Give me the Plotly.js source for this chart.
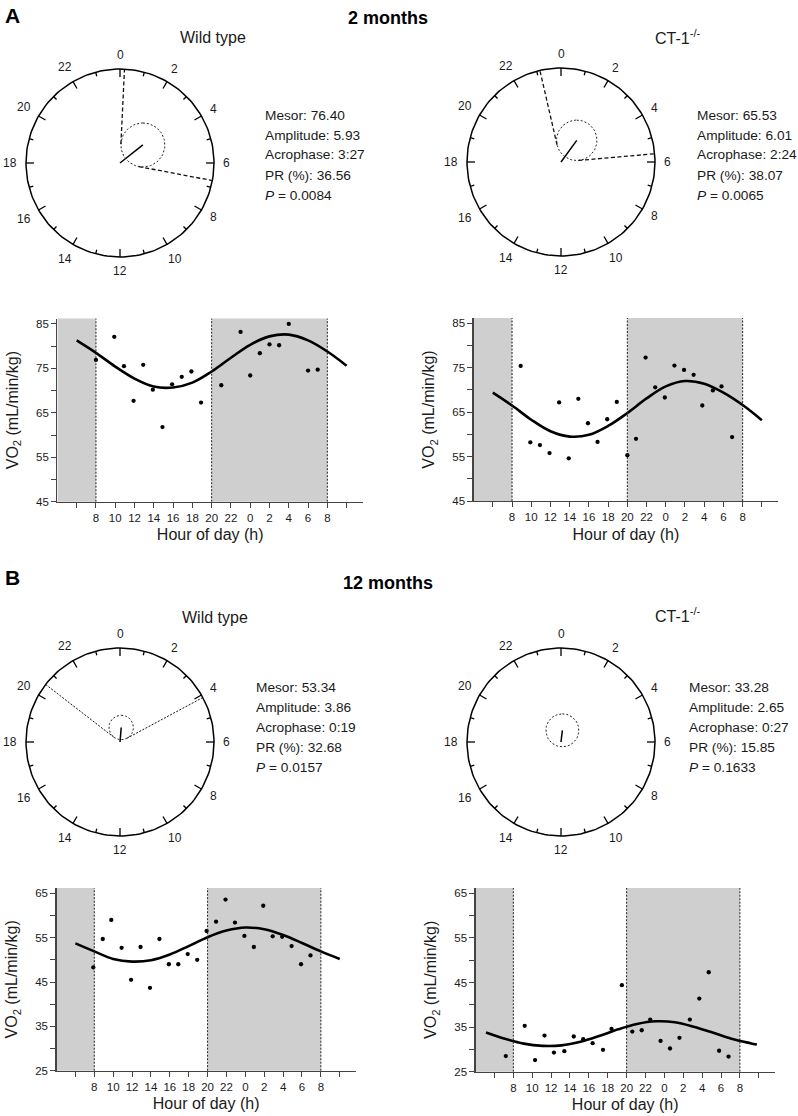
<!DOCTYPE html>
<html><head><meta charset="utf-8">
<script src="https://cdn.plot.ly/plotly-3.0.1.min.js"></script>
<style>html,body{margin:0;padding:0;background:#fff}</style>
</head><body><div id="chart" style="width:798px;height:1116px"></div>
<script>
// ---------------- data ----------------
const panelLetters = ['A', 'B'];
const ageTitles = ['2 months', '12 months'];
const groupTitles = ['Wild type', 'CT-1<sup>-/-</sup>', 'Wild type', 'CT-1<sup>-/-</sup>'];

// cosinor results (order: 2m WT, 2m CT-1, 12m WT, 12m CT-1)
const mesor = ['76.40', '65.53', '53.34', '33.28'];
const amplitude = ['5.93', '6.01', '3.86', '2.65'];
const acrophase = ['3:27', '2:24', '0:19', '0:27'];
const percentRhythm = ['36.56', '38.07', '32.68', '15.85'];
const pValue = ['0.0084', '0.0065', '0.0157', '0.1633'];

// clock vector length and confidence-circle radius (fraction of dial radius)
const vectorLength = [0.31, 0.285, 0.155, 0.125];
const confRadius = [0.234, 0.215, 0.13, 0.175];
const dialHourLabels = ['0','2','4','6','8','10','12','14','16','18','20','22'];

// VO2 points (hour of day, continuous: 24 = 0 h next day)
const wt2mHours = [8.0, 9.9, 10.9, 11.9, 12.9, 13.9, 14.9, 15.9, 16.9, 17.9, 18.9, 21.0, 23.0, 24.0, 25.0, 26.0, 27.0, 28.0, 30.0, 31.0];
const wt2mVO2   = [76.9, 82.1, 75.5, 67.7, 75.8, 70.2, 61.8, 71.4, 73.1, 74.3, 67.3, 71.2, 83.2, 73.4, 78.4, 80.4, 80.2, 85.0, 74.5, 74.7];

const ct2mHours = [8.9, 9.9, 10.9, 11.9, 12.9, 13.9, 14.9, 15.9, 16.9, 17.9, 18.9, 20.0, 20.9, 21.9, 22.9, 23.9, 24.9, 25.9, 26.9, 27.8, 28.9, 29.8, 30.9];
const ct2mVO2   = [75.4, 58.2, 57.6, 55.8, 67.2, 54.6, 68.0, 62.5, 58.3, 63.4, 67.3, 55.3, 59.0, 77.3, 70.6, 68.3, 75.5, 74.5, 73.4, 66.5, 69.9, 70.8, 59.4];

const wt12mHours = [7.9, 8.9, 9.8, 10.9, 11.9, 12.9, 13.9, 14.9, 15.9, 16.9, 17.9, 18.9, 19.9, 20.9, 21.9, 22.9, 23.9, 24.9, 25.9, 26.9, 27.9, 28.9, 29.9, 30.9];
const wt12mVO2   = [48.3, 54.7, 59.0, 52.7, 45.5, 52.9, 43.7, 54.7, 49.0, 49.0, 51.3, 50.0, 56.5, 58.6, 63.6, 58.4, 55.4, 52.9, 62.2, 55.3, 55.2, 53.1, 49.0, 51.0];

const ct12mHours = [7.2, 9.2, 10.3, 11.3, 12.3, 13.4, 14.4, 15.4, 16.4, 17.5, 18.4, 19.5, 20.6, 21.6, 22.5, 23.6, 24.6, 25.6, 26.7, 27.7, 28.7, 29.8, 30.8];
const ct12mVO2   = [28.5, 35.3, 27.6, 33.1, 29.3, 29.6, 32.9, 32.3, 31.4, 29.9, 34.6, 44.4, 34.0, 34.3, 36.7, 31.9, 30.2, 32.6, 36.7, 41.4, 47.3, 29.7, 28.4];

// fitted cosine curves, every 2 h
const fitHours = [6, 8, 10, 12, 14, 16, 18, 20, 22, 24, 26, 28, 30, 32, 34];
const wt2mFit  = [81.3, 78.5, 75.4, 72.7, 70.9, 70.7, 71.8, 74.3, 77.4, 80.3, 82.2, 82.6, 81.3, 78.8, 75.6];
const ct2mFit  = [69.4, 66.5, 63.3, 60.7, 59.5, 59.9, 61.9, 64.8, 68.1, 70.8, 72.0, 71.4, 69.4, 66.6, 63.2];
const wt12mFit = [53.7, 51.9, 50.2, 49.6, 49.9, 51.2, 53.1, 55.1, 56.6, 57.3, 56.9, 55.6, 53.8, 51.9, 50.2];
const ct12mFitHours = [5.1, 7.1, 9.1, 11.1, 13.1, 15.1, 17.1, 19.1, 21.1, 23.1, 25.1, 27.1, 29.1, 31.1, 33.1, 33.8];
const ct12mFit = [33.8, 32.4, 31.3, 30.8, 30.9, 31.7, 33.0, 34.5, 35.7, 36.3, 36.1, 35.1, 33.8, 32.4, 31.4, 31.1];

// axes
const xTickVals = [8, 10, 12, 14, 16, 18, 20, 22, 24, 26, 28, 30, 32];
const xTickText = ['8', '10', '12', '14', '16', '18', '20', '22', '0', '2', '4', '6', '8'];
const xMinorTicks = [6, 34];
const yTicks2m = [45, 55, 65, 75, 85];
const yMinor2m = [50, 60, 70, 80];
const yTicks12m = [25, 35, 45, 55, 65];
const yMinor12m = [30, 40, 50, 60];
const darkStart = [-4, 20];   // lights off
const darkEnd = [8, 32];      // lights on
const lightSwitchHours = [8, 20, 32];

// ---------------- layout helpers ----------------
const W = 798, H = 1116;
const fx = px => px / W;
const fy = py => 1 - py / H;
const FONT = 'Liberation Sans, Arial, Helvetica, sans-serif';
const INK = '#1a1a1a';
const AXC = '#444';

const panels = [
  {hx: wt2mHours, hy: wt2mVO2, fx: fitHours, fy: wt2mFit, yt: yTicks2m, ym: yMinor2m, yr: [45, 86.2], box: [57.4, 363.0, 318.6, 501.7]},
  {hx: ct2mHours, hy: ct2mVO2, fx: fitHours, fy: ct2mFit, yt: yTicks2m, ym: yMinor2m, yr: [45, 86.2], box: [473.6, 778.2, 318.0, 501.0]},
  {hx: wt12mHours, hy: wt12mVO2, fx: fitHours, fy: wt12mFit, yt: yTicks12m, ym: yMinor12m, yr: [25, 66.2], box: [56.5, 355.8, 888.0, 1070.7]},
  {hx: ct12mHours, hy: ct12mVO2, fx: ct12mFitHours, fy: ct12mFit, yt: yTicks12m, ym: yMinor12m, yr: [25, 66.2], box: [475.6, 774.8, 888.0, 1071.7]}
];
const xRange = [4, 35.7];
const clockCenters = [[120, 163], [561, 162], [120, 742], [561, 742]];
const R = 94, HALF = 118;

const traces = [];
const shapes = [];
const annotations = [];
const layout = {
  width: W, height: H, margin: {l: 0, r: 0, t: 0, b: 0},
  paper_bgcolor: '#fff', plot_bgcolor: 'rgba(0,0,0,0)',
  showlegend: false, font: {family: FONT, color: INK},
  shapes, annotations
};

// ---------------- scatter / fit panels ----------------
panels.forEach((p, i) => {
  const n = i + 1;
  const xa = 'x' + (n === 1 ? '' : n), ya = 'y' + (n === 1 ? '' : n);
  const [l, r, t, b] = p.box;
  layout['xaxis' + (n === 1 ? '' : n)] = {
    domain: [fx(l), fx(r)], range: xRange, anchor: ya,
    showline: true, linecolor: AXC, linewidth: 1.2, mirror: false,
    ticks: 'outside', ticklen: 5, tickwidth: 1, tickcolor: AXC,
    tickmode: 'array', tickvals: xTickVals, ticktext: xTickText,
    minor: {tickmode: 'array', tickvals: xMinorTicks, ticks: 'outside', ticklen: 5, tickwidth: 1, tickcolor: AXC, showgrid: false},
    tickfont: {size: 11.5, color: INK, family: FONT},
    showgrid: false, zeroline: false, fixedrange: true,
    title: {text: 'Hour of day (h)', font: {size: 16, color: INK, family: FONT}, standoff: 6}
  };
  layout['yaxis' + (n === 1 ? '' : n)] = {
    domain: [fy(b), fy(t)], range: p.yr, anchor: xa,
    showline: true, linecolor: AXC, linewidth: 1.2,
    ticks: 'outside', ticklen: 5, tickwidth: 1, tickcolor: AXC,
    tickmode: 'array', tickvals: p.yt, ticktext: p.yt.map(String),
    minor: {tickmode: 'array', tickvals: p.ym, ticks: 'outside', ticklen: 5, tickwidth: 1, tickcolor: AXC, showgrid: false},
    tickfont: {size: 11.5, color: INK, family: FONT},
    showgrid: false, zeroline: false, fixedrange: true,
    title: {text: 'VO<sub>2</sub> (mL/min/kg)', font: {size: 16, color: INK, family: FONT}, standoff: 13}
  };
  // dark phases
  darkStart.forEach((s, k) => {
    shapes.push({type: 'rect', xref: xa, yref: ya + ' domain', x0: Math.max(s, xRange[0]), x1: Math.min(darkEnd[k], xRange[1]),
      y0: 0, y1: 1, fillcolor: '#cfcfcf', line: {width: 0}, layer: 'below'});
  });
  lightSwitchHours.forEach(h => {
    shapes.push({type: 'line', xref: xa, yref: ya + ' domain', x0: h, x1: h, y0: 0, y1: 1,
      line: {color: '#222', width: 1, dash: '2px,1.5px'}, layer: 'above'});
  });
  traces.push({type: 'scatter', mode: 'lines', x: p.fx, y: p.fy, xaxis: xa, yaxis: ya,
    line: {color: '#000', width: 2.6, shape: 'spline', smoothing: 1}, hoverinfo: 'skip'});
  traces.push({type: 'scatter', mode: 'markers', x: p.hx, y: p.hy, xaxis: xa, yaxis: ya,
    marker: {color: '#000', size: 4.3}, cliponaxis: false});
});

// ---------------- clocks ----------------
const hm = s => { const [h, m] = s.split(':').map(Number); return h + m / 60; };
clockCenters.forEach(([cx, cy], i) => {
  const n = i + 5;
  const xa = 'x' + n, ya = 'y' + n;
  layout['xaxis' + n] = {domain: [fx(cx - HALF), fx(cx + HALF)], range: [-HALF / R, HALF / R], visible: false, fixedrange: true, anchor: ya};
  layout['yaxis' + n] = {domain: [fy(cy + HALF), fy(cy - HALF)], range: [-HALF / R, HALF / R], visible: false, fixedrange: true, anchor: xa};

  // dial
  const ox = [], oy = [];
  for (let k = 0; k <= 360; k += 2) { const a = k * Math.PI / 180; ox.push(Math.sin(a)); oy.push(Math.cos(a)); }
  traces.push({type: 'scatter', mode: 'lines', x: ox, y: oy, xaxis: xa, yaxis: ya, line: {color: '#000', width: 1.5}, hoverinfo: 'skip'});
  const tx = [], ty = [];
  for (let h = 0; h < 24; h++) {
    const a = h / 24 * 2 * Math.PI, len = h % 2 === 0 ? 0.085 : 0.045;
    tx.push(Math.sin(a), (1 - len) * Math.sin(a), null);
    ty.push(Math.cos(a), (1 - len) * Math.cos(a), null);
  }
  traces.push({type: 'scatter', mode: 'lines', x: tx, y: ty, xaxis: xa, yaxis: ya, line: {color: '#000', width: 1.3}, hoverinfo: 'skip'});
  dialHourLabels.forEach((lab, k) => {
    const a = k * 2 / 24 * 2 * Math.PI;
    const w = 6.7 * lab.length;
    const dist = (R + 9 + Math.abs(Math.cos(a)) * 5 + Math.abs(Math.sin(a)) * w / 2) / R;
    annotations.push({xref: xa, yref: ya, x: dist * Math.sin(a), y: dist * Math.cos(a), text: lab, showarrow: false,
      xanchor: 'center', yanchor: 'middle', font: {size: 12, color: INK, family: FONT}});
  });

  // acrophase vector & confidence region
  const th = hm(acrophase[i]) / 24 * 2 * Math.PI;
  const d = vectorLength[i], rc = confRadius[i];
  const vx = d * Math.sin(th), vy = d * Math.cos(th);
  traces.push({type: 'scatter', mode: 'lines', x: [0, vx], y: [0, vy], xaxis: xa, yaxis: ya, line: {color: '#000', width: 1.5}, hoverinfo: 'skip'});
  const ccx = [], ccy = [];
  for (let k = 0; k <= 360; k += 4) { const a = k * Math.PI / 180; ccx.push(vx + rc * Math.sin(a)); ccy.push(vy + rc * Math.cos(a)); }
  traces.push({type: 'scatter', mode: 'lines', x: ccx, y: ccy, xaxis: xa, yaxis: ya, line: {color: '#222', width: 1, dash: '2px,2px'}, hoverinfo: 'skip'});
  if (d > rc) {
    const half = Math.asin(rc / d), tl = Math.sqrt(d * d - rc * rc);
    const lx = [], ly = [];
    [-1, 1].forEach(s => { const a = th + s * half; lx.push(tl * Math.sin(a), Math.sin(a), null); ly.push(tl * Math.cos(a), Math.cos(a), null); });
    const dash = i < 2 ? '4px,2.5px' : '2px,1.5px';
    traces.push({type: 'scatter', mode: 'lines', x: lx, y: ly, xaxis: xa, yaxis: ya, line: {color: '#111', width: i < 2 ? 1.3 : 1, dash}, hoverinfo: 'skip'});
  }
});

// ---------------- text ----------------
const paperText = (x, y, text, size, opts = {}) => annotations.push(Object.assign({
  xref: 'paper', yref: 'paper', x: fx(x), y: fy(y), text, showarrow: false,
  xanchor: 'center', yanchor: 'middle', font: {size, color: INK, family: FONT}}, opts));

paperText(3, 15.5, '<b>' + panelLetters[0] + '</b>', 21, {xanchor: 'left', font: {size: 21, color: '#000', family: FONT}});
paperText(3, 577.5, '<b>' + panelLetters[1] + '</b>', 21, {xanchor: 'left', font: {size: 21, color: '#000', family: FONT}});
paperText(388, 18, '<b>' + ageTitles[0] + '</b>', 18, {font: {size: 18, color: '#000', family: FONT}});
paperText(388, 583, '<b>' + ageTitles[1] + '</b>', 18, {font: {size: 18, color: '#000', family: FONT}});

const groupTitlePos = [[213, 37, 'center'], [653, 36.5, 'left'], [215, 617, 'center'], [653, 615, 'left']];
groupTitles.forEach((g, i) => paperText(groupTitlePos[i][0], groupTitlePos[i][1], g, 16, {xanchor: groupTitlePos[i][2]}));

const statsPos = [[263, 115], [695, 115], [254, 687], [687, 687]];
statsPos.forEach(([x, y], i) => {
  const lines = ['Mesor: ' + mesor[i], 'Amplitude: ' + amplitude[i], 'Acrophase: ' + acrophase[i], 'PR (%): ' + percentRhythm[i], '<i>P</i> = ' + pValue[i]];
  lines.forEach((t, k) => paperText(x, y + k * 20, t, 13.7, {xanchor: 'left'}));
});

Plotly.newPlot('chart', traces, layout, {staticPlot: true, displayModeBar: false});
</script>
</body></html>
